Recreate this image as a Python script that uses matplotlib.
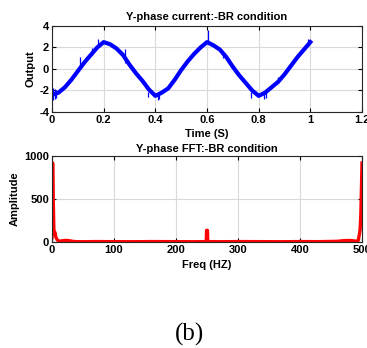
import numpy as np
import matplotlib
matplotlib.use('Agg')
import matplotlib.pyplot as plt

# time samples (s) and the centre line of the noisy current trace
time_s = [0.0, 0.025, 0.05, 0.075, 0.1, 0.125, 0.15, 0.175, 0.2, 0.225,
          0.25, 0.275, 0.3, 0.325, 0.35, 0.375, 0.4, 0.425, 0.45, 0.475,
          0.5, 0.525, 0.55, 0.575, 0.6, 0.625, 0.65, 0.675, 0.7, 0.725,
          0.75, 0.775, 0.8, 0.825, 0.85, 0.875, 0.9, 0.925, 0.95, 0.975, 1.0]
current = [-2.4, -2.2, -1.7, -1.0, -0.2, 0.6, 1.3, 2.0, 2.5, 2.3,
           1.9, 1.3, 0.4, -0.4, -1.1, -1.9, -2.5, -2.2, -1.8, -1.0,
           -0.1, 0.7, 1.4, 2.0, 2.5, 2.2, 1.8, 1.1, 0.2, -0.6,
           -1.3, -2.0, -2.5, -2.2, -1.7, -1.2, -0.5, 0.3, 1.1, 1.8, 2.5]

# short spikes riding on the trace: time, low, high
spike_t = [0.004, 0.01, 0.016, 0.108, 0.153, 0.178, 0.282, 0.37, 0.41, 0.415,
           0.602, 0.66, 0.771, 0.82, 0.83, 0.874, 0.99]
spike_lo = [-2.9, -2.8, -2.7, 0.2, 1.3, 2.0, 0.55, -2.6, -2.9, -2.8,
            2.5, 1.0, -2.7, -2.8, -2.7, -1.3, 2.3]
spike_hi = [-1.8, -1.9, -2.0, 1.1, 1.95, 2.8, 1.9, -2.1, -2.3, -2.2,
            3.6, 1.6, -2.1, -2.2, -2.2, -0.7, 2.8]

# FFT amplitude spectrum
freq_hz = [0, 1, 2, 3, 4, 5, 6, 8, 10, 12, 15, 20, 25, 30, 35, 40, 50, 70,
           100, 130, 160, 200, 230, 248.8, 249.3, 250.7, 251.2, 270, 300, 340,
           370, 400, 430, 460, 465, 470, 480, 485, 490, 492, 494, 495, 496,
           497, 498, 499, 500]
amplitude = [50, 920, 500, 150, 90, 110, 60, 30, 15, 10, 12, 18, 18, 12, 6, 4, 3, 5,
             4, 3, 5, 4, 3, 5, 135, 135, 5, 3, 5, 4,
             3, 5, 4, 8, 12, 15, 18, 15, 10, 5, 20, 60, 100,
             150, 300, 600, 920]


def style_axes(ax):
    '''MATLAB-like look: boxed axes, grey grid, ticks inside on all sides'''
    ax.grid(True, color='#d9d9d9', linewidth=0.8)
    ax.set_axisbelow(True)
    ax.tick_params(direction='in', length=3, width=0.8, top=True, right=True,
                   labelsize=8, pad=2)
    for lbl in ax.get_xticklabels() + ax.get_yticklabels():
        lbl.set_fontweight('bold')
    for sp in ax.spines.values():
        sp.set_linewidth(0.8)
        sp.set_color('#262626')


def main():
    plt.rcParams['font.family'] = ['Liberation Sans', 'DejaVu Sans']
    plt.rcParams['axes.unicode_minus'] = False
    fig = plt.figure(figsize=(3.67, 3.48), dpi=100)

    # current trace
    ax1 = fig.add_axes([0.1417, 0.6782, 0.8447, 0.2471])
    ax1.plot(time_s, current, color='blue', linewidth=3.0)
    ax1.vlines(spike_t, spike_lo, spike_hi, color='blue', linewidth=0.9)
    ax1.set_xlim(0, 1.2)
    ax1.set_ylim(-4, 4)
    ax1.set_xticks([0, 0.2, 0.4, 0.6, 0.8, 1, 1.2])
    ax1.set_xticklabels(['0', '0.2', '0.4', '0.6', '0.8', '1', '1.2'])
    ax1.set_yticks([-4, -2, 0, 2, 4])
    style_axes(ax1)
    ax1.set_title('Y-phase current:-BR condition', fontsize=8, fontweight='bold', pad=4)
    ax1.set_xlabel('Time (S)', fontsize=8, fontweight='bold', labelpad=3)
    ax1.set_ylabel('Output', fontsize=8, fontweight='bold', labelpad=3)

    # spectrum
    ax2 = fig.add_axes([0.1417, 0.3046, 0.8447, 0.2471])
    ax2.plot(freq_hz, amplitude, color='red', linewidth=2.4)
    ax2.set_xlim(0, 500)
    ax2.set_ylim(0, 1000)
    ax2.set_xticks([0, 100, 200, 300, 400, 500])
    ax2.set_yticks([0, 500, 1000])
    style_axes(ax2)
    ax2.set_title('Y-phase FFT:-BR condition', fontsize=8, fontweight='bold', pad=3)
    ax2.set_xlabel('Freq (HZ)', fontsize=8, fontweight='bold', labelpad=4)
    ax2.set_ylabel('Amplitude', fontsize=8, fontweight='bold', labelpad=3)

    fig.text(0.516, 0.02, '(b)', fontsize=18, family='Liberation Serif',
             ha='center', va='baseline')

    fig.savefig('out.png', dpi=100)


if __name__ == "__main__":
    main()
